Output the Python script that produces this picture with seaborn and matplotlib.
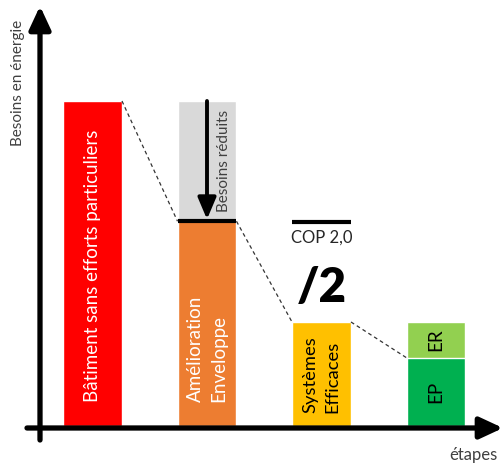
import matplotlib
matplotlib.use("Agg")
import matplotlib.pyplot as plt
import seaborn as sns
import pandas as pd

# ---- data ----
etapes = ["Bâtiment sans efforts particuliers", "Amélioration\nEnveloppe",
          "Systèmes\nEfficaces", "EP / ER"]
besoins_total = [100, 100, 32, 32]      # back layer (grey = initial needs, light green = ER+EP)
besoins_reel = [100, 63, 32, 21]        # front layer
couleurs_fond = ["#FF0000", "#D9D9D9", "#FFC000", "#92D050"]
couleurs_avant = ["#FF0000", "#ED7D31", "#FFC000", "#00B050"]
ep_value = 21
er_value = 11

sns.set_theme(style="white")
plt.rcParams["font.family"] = ["Lato", "DejaVu Sans"]

W, H = 504, 463
STEP = 114.5
X0 = 92.5
fig = plt.figure(figsize=(W / 100, H / 100), dpi=100)
ax = fig.add_axes([0, 0, 1, 1])

width = 0.515
df_back = pd.DataFrame({"etape": etapes, "val": besoins_total})
df_front = pd.DataFrame({"etape": etapes, "val": besoins_reel})
sns.barplot(data=df_back, x="etape", y="val", hue="etape", order=etapes,
            palette=couleurs_fond, saturation=1, width=width, legend=False, ax=ax)
sns.barplot(data=df_front, x="etape", y="val", hue="etape", order=etapes,
            palette=couleurs_avant, saturation=1, width=width, legend=False, ax=ax)

ax.set_xlim(-X0 / STEP, (W - X0) / STEP)
ax.set_ylim((426 - H) / 3.25, 426 / 3.25)
ax.axis("off")

# dashed connectors between bar tops
for i in range(3):
    ax.plot([i + width / 2, i + 1 - width / 2], [besoins_reel[i], besoins_reel[i + 1]],
            ls=(0, (3, 2.5)), color="#333333", lw=0.9, zorder=3)

# black line on top of orange
ax.hlines(besoins_reel[1], 1 - width / 2, 1 + width / 2, color="black", lw=3, zorder=4)

# arrow "Besoins réduits"
ax.annotate("", xy=(1, besoins_reel[1] + 0.6), xytext=(1, besoins_total[1]),
            arrowprops=dict(arrowstyle="-|>,head_length=1.3,head_width=0.55",
                            lw=2.8, color="black", shrinkA=0, shrinkB=0,
                            mutation_scale=10), zorder=5)
ax.text(1.145, (besoins_total[1] + besoins_reel[1]) / 2, "Besoins réduits",
        rotation=90, ha="center", va="center", fontsize=11, color="#404040")

# texts inside bars
ax.text(0, 7.4, etapes[0], rotation=90, ha="center", va="bottom",
        fontsize=13.5, color="white")
ax.text(1, 7.4, etapes[1], rotation=90, ha="center", va="bottom",
        fontsize=13.5, color="white", multialignment="left", linespacing=1.45)
ax.text(2, 4.0, etapes[2], rotation=90, ha="center", va="bottom",
        fontsize=13.2, color="black", multialignment="left", linespacing=1.45)
ax.text(3, ep_value / 2, "EP", rotation=90, ha="center", va="center",
        fontsize=13.5, color="black")
ax.text(3, ep_value + er_value / 2, "ER", rotation=90, ha="center", va="center",
        fontsize=13.5, color="black")

# COP fraction and /2
ax.hlines(besoins_reel[1] - 0.3, 2 - width / 2, 2 + width / 2, color="black", lw=3, zorder=4)
ax.text(2, 58.0, "COP 2,0", ha="center", va="center", fontsize=12, color="#262626")
ax.text(2, 42.5, "/2", ha="center", va="center", fontsize=34, fontweight="heavy",
        color="black")

# axes arrows (figure pixel coordinates, origin bottom-left)
ax.annotate("", xy=(40, H - 6), xytext=(40, H - 440), xycoords="figure pixels",
            textcoords="figure pixels",
            arrowprops=dict(arrowstyle="-|>,head_length=1.4,head_width=0.65",
                            lw=3.8, color="black", shrinkA=0, shrinkB=0,
                            mutation_scale=10))
ax.annotate("", xy=(503, H - 428), xytext=(27, H - 428), xycoords="figure pixels",
            textcoords="figure pixels",
            arrowprops=dict(arrowstyle="-|>,head_length=1.4,head_width=0.65",
                            lw=3.8, color="black", shrinkA=0, shrinkB=0,
                            mutation_scale=10))

fig.text(18 / W, 1 - 83 / H, "Besoins en énergie", rotation=90, ha="center",
         va="center", fontsize=11, color="#404040")
fig.text(473 / W, 1 - 455 / H, "étapes", ha="center", va="center",
         fontsize=12, color="#404040")

fig.savefig("out.png", dpi=100)
